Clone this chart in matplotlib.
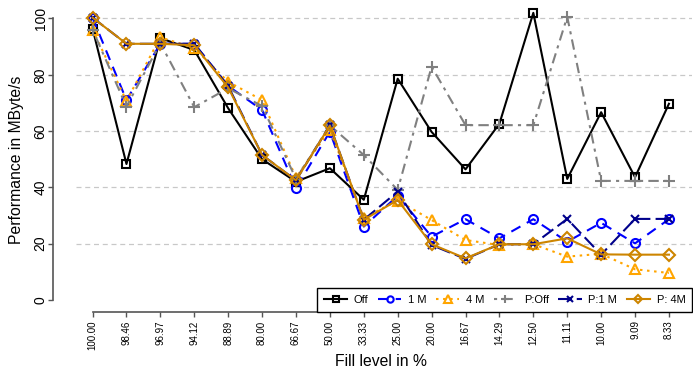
import matplotlib
matplotlib.use("Agg")
import matplotlib.pyplot as plt

plt.rcParams['font.family'] = ['Liberation Sans', 'DejaVu Sans']

fill_labels = ["100.00", "98.46", "96.97", "94.12", "88.89", "80.00", "66.67", "50.00",
               "33.33", "25.00", "20.00", "16.67", "14.29", "12.50", "11.11", "10.00",
               "9.09", "8.33"]

off = [96.4, 48.3, 93.0, 88.8, 68.1, 50.0, 42.0, 46.8, 35.6, 78.6, 59.7, 46.4, 62.6, 102.0,
       43.0, 66.7, 43.6, 69.7]
m1 = [100.3, 71.0, 91.0, 91.0, 76.0, 67.5, 39.7, 59.8, 26.1, 37.0, 22.5, 28.7, 21.9, 28.7,
      20.7, 27.4, 20.1, 28.7]
m4 = [96.0, 70.7, 93.3, 89.5, 77.5, 71.0, 43.5, 60.5, 29.2, 35.3, 28.4, 21.3, 19.5, 19.8,
      15.4, 16.4, 10.9, 9.6]
p_off = [96.0, 68.7, 91.2, 68.5, 75.2, 68.9, 43.0, 62.0, 51.5, 39.1, 82.9, 62.1, 62.1, 62.1,
         100.6, 42.3, 42.3, 42.3]
p_1m = [100.3, 91.0, 91.0, 91.0, 76.0, 51.5, 42.5, 62.0, 28.5, 38.5, 19.5, 14.6, 19.8, 19.8,
        28.8, 16.1, 28.8, 28.8]
p_4m = [100.3, 91.0, 91.0, 90.5, 75.5, 51.5, 42.5, 62.0, 28.5, 35.5, 19.8, 14.8, 19.8, 19.8,
        21.9, 16.2, 16.1, 16.1]

series = [
    ("Off", off, dict(color="black", ls="-", marker="s", ms=6)),
    ("1 M", m1, dict(color="#0000FF", ls=(0, (5, 3.5)), marker="o", ms=6.5)),
    ("4 M", m4, dict(color="#FFA500", ls=(0, (1.2, 2.2)), marker="^", ms=7.5)),
    ("P:Off", p_off, dict(color="#808080", ls=(0, (1.5, 2.5, 5, 2.5)), marker="+", ms=9)),
    ("P:1 M", p_1m, dict(color="#00008B", ls=(0, (6.5, 2.5)), marker="x", ms=6)),
    ("P: 4M", p_4m, dict(color="#CD8500", ls="-", marker="D", ms=6)),
]

fig = plt.figure(figsize=(6.93, 3.70), dpi=100)
ax = fig.add_axes([69.5 / 693, (370 - 311.7) / 370, (692 - 69.5) / 693, (311.7 - 7.2) / 370])

x = list(range(len(fill_labels)))
for label, vals, st in series:
    ax.plot(x, vals, label=label, color=st["color"], ls=st["ls"], lw=1.5,
            marker=st["marker"], ms=st["ms"], mfc="none", mec=st["color"], mew=1.5)

ax.set_xlim(-0.68, 17.68)
ax.set_ylim(-4.16, 104)

for y in [20, 40, 60, 80, 100]:
    ax.axhline(y, xmin=0.01, color="#C8C8C8", ls=(0, (4, 3)), lw=0.9, zorder=0)

ax.spines['top'].set_visible(False)
ax.spines['right'].set_visible(False)
ax.spines['left'].set_position(('outward', 11.9))
ax.spines['left'].set_bounds(0, 100)
ax.spines['bottom'].set_bounds(0, 17)
for s in ['left', 'bottom']:
    ax.spines[s].set_color('#555555')
    ax.spines[s].set_linewidth(1.2)

ax.set_yticks([0, 20, 40, 60, 80, 100])
ax.set_yticklabels(["0", "20", "40", "60", "80", "100"], rotation=90, va='center', fontsize=10)
ax.set_xticks(x)
ax.set_xticklabels(fill_labels, rotation=90, fontsize=7)
ax.tick_params(axis='both', color='#555555', length=3.3, width=1.0)
ax.tick_params(axis='y', pad=0.5)
ax.tick_params(axis='x', pad=3)

ax.set_xlabel("Fill level in %", fontsize=11.3, labelpad=3)
ax.set_ylabel("Performance in MByte/s", fontsize=11.3, labelpad=7)

leg = ax.legend(loc='lower right', bbox_to_anchor=(1.0, 0.0), ncol=6, fontsize=8,
                frameon=True, fancybox=False, edgecolor='black', framealpha=1,
                borderaxespad=0, handlelength=2.1, handletextpad=0.6,
                columnspacing=0.85, borderpad=0.6, markerscale=0.7)
leg.get_frame().set_linewidth(1.0)

fig.savefig("out.png", dpi=100)
